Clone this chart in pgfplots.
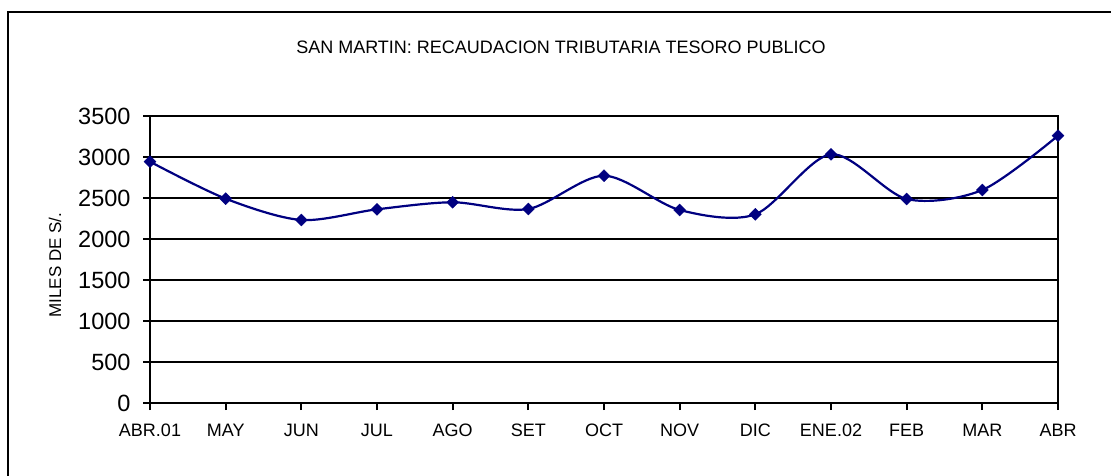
\documentclass[border=0pt]{standalone}
\usepackage{fontspec}
\setmainfont{Liberation Sans}
\usepackage{pgfplots}
\pgfplotsset{compat=1.18}
\definecolor{serie}{RGB}{0,0,128}

\pgfplotstableread{
idx valor
0  2943
1  2492
2  2232
3  2362
4  2448
5  2366
6  2772
7  2354
8  2301
9  3033
10 2488
11 2598
12 3260
}\recaudacion

\begin{document}
\begin{tikzpicture}[x=1pt,y=1pt]
\useasboundingbox (0,0) rectangle (1111,-475);
% marco del grafico
\draw[line width=1.5pt] (8,-476) -- (8,-12) -- (1112,-12);
\node[font=\fontsize{18}{20}\selectfont] at (561,-47) {SAN MARTIN: RECAUDACION TRIBUTARIA TESORO PUBLICO};
\node[font=\fontsize{17}{19}\selectfont, rotate=90] at (55,-265) {MILES DE S/.};

\begin{axis}[
    at={(150pt,-403pt)}, anchor=south west,
    scale only axis, width=908pt, height=287pt,
    xmin=0, xmax=12, ymin=0, ymax=3500,
    xtick=data,
    xticklabels={ABR.01,MAY,JUN,JUL,AGO,SET,OCT,NOV,DIC,ENE.02,FEB,MAR,ABR},
    ytick={0,500,...,3500},
    ymajorgrids,
    grid style={black, line width=2pt},
    axis line style={black, line width=2pt},
    tick style={black, line width=2pt},
    tick align=outside, major tick length=7pt,
    xtick pos=bottom, ytick pos=left,
    x tick label style={font=\fontsize{18}{20}\selectfont, text height=1.6ex, text depth=0.3ex, yshift=-15pt},
    y tick label style={font=\fontsize{23.5}{25}\selectfont, xshift=-9pt},
    /pgf/number format/assume math mode=true,
    yticklabel style={/pgf/number format/1000 sep={}},
    clip=false,
]
\addplot[serie, line width=2.2pt, smooth, mark=square*,
    mark size=4.2pt, mark options={rotate=45, fill=serie, line width=0.5pt}]
    table[x=idx, y=valor] {\recaudacion};
\end{axis}
\end{tikzpicture}
\end{document}
